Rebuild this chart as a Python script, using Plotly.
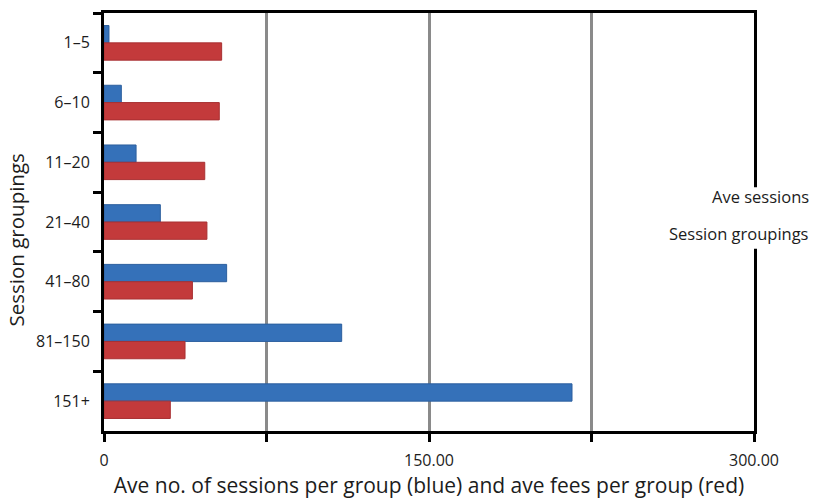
import plotly.graph_objects as go

# Session grouping categories (top to bottom)
groups = ["1–5", "6–10", "11–20", "21–40", "41–80", "81–150", "151+"]

# Average sessions per group (blue) and average fees per group (red)
ave_sessions = [2.3, 8.0, 14.8, 26.0, 56.6, 109.7, 216.0]
ave_fees = [54.3, 53.2, 46.5, 47.5, 40.8, 37.4, 30.6]

# x-axis ticks
x_tickvals = [0, 75, 150, 225, 300]
x_ticktext = ["0", "", "150.00", "", "300.00"]

FONT = "Open Sans, Noto Sans, DejaVu Sans, sans-serif"
TEXT = "#1c1c1c"

fig = go.Figure()
fig.add_trace(go.Bar(
    y=groups, x=ave_sessions, orientation="h", name="Ave sessions",
    marker=dict(color="#3571b9", line=dict(color="#2c5f9e", width=1)),
    showlegend=False,
))
fig.add_trace(go.Bar(
    y=groups, x=ave_fees, orientation="h", name="Ave fees",
    marker=dict(color="#c33a3b", line=dict(color="#a83032", width=1)),
    showlegend=False,
))

fig.update_layout(
    width=813, height=504,
    margin=dict(l=104, r=59, t=10, b=67),
    paper_bgcolor="white", plot_bgcolor="white",
    barmode="group", bargap=0.42, bargroupgap=0.0,
    font=dict(family=FONT, size=16, color=TEXT),
    xaxis=dict(
        range=[0, 300], tickvals=x_tickvals, ticktext=x_ticktext,
        showgrid=True, gridcolor="#8a8a8a", gridwidth=3,
        showline=True, linecolor="black", linewidth=3, mirror=True,
        ticks="outside", ticklen=8, tickwidth=3, tickcolor="black",
        tickfont=dict(size=16), ticklabelstandoff=5,
        title=dict(text="Ave no. of sessions per group (blue) and ave fees per group (red)",
                   font=dict(size=21), standoff=8),
        zeroline=False, fixedrange=True,
    ),
    yaxis=dict(
        categoryorder="array", categoryarray=groups, autorange="reversed",
        showline=True, linecolor="black", linewidth=3, mirror=True,
        ticks="outside", tickson="boundaries", ticklen=8, tickwidth=3, tickcolor="black",
        tickfont=dict(size=16), ticklabelstandoff=8,
        showgrid=False, fixedrange=True,
    ),
    # white legend box that sits over the right frame line
    shapes=[
        dict(type="rect", xref="paper", yref="paper",
             x0=0.975, x1=1.09, y0=0.436, y1=0.583,
             fillcolor="white", line=dict(width=0), layer="above"),
    ],
    annotations=[
        dict(text="Session groupings", xref="paper", yref="paper",
             x=-0.1355, y=0.458, textangle=-90,
             xanchor="center", yanchor="middle", showarrow=False,
             font=dict(size=20.5, color=TEXT)),
        dict(text="Ave sessions", xref="paper", yref="paper", x=1.088, y=0.56,
             xanchor="right", yanchor="middle", showarrow=False,
             font=dict(size=16.5, color=TEXT)),
        dict(text="Session groupings", xref="paper", yref="paper", x=1.088, y=0.473,
             xanchor="right", yanchor="middle", showarrow=False,
             font=dict(size=16.5, color=TEXT)),
    ],
)

fig.write_html("out.html")
